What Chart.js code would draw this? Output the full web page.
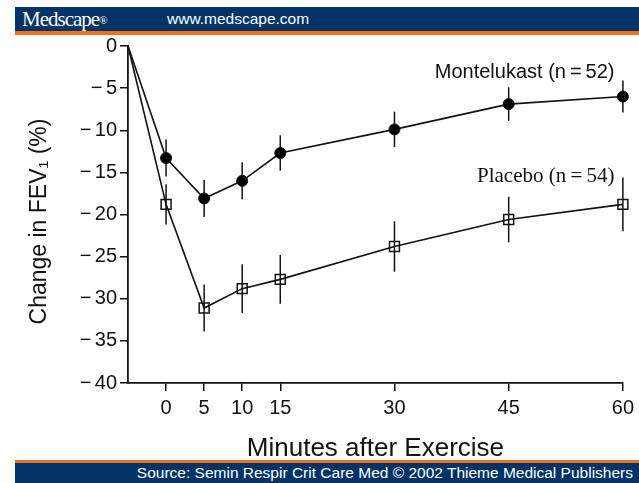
<!DOCTYPE html>
<html>
<head>
<meta charset="utf-8">
<script src="https://cdn.jsdelivr.net/npm/chart.js@4.4.1/dist/chart.umd.min.js"></script>
<style>
  html, body { margin: 0; padding: 0; background: #fff; }
  #wrap { position: relative; width: 639px; height: 483px; overflow: hidden; }
  #grafico { position: absolute; left: 0; top: 0; }
  .faixa { position: absolute; left: 15px; right: 0; background: #013366; color: #fff; }
  #topo { top: 7px; height: 24px; border-bottom: 4px solid #f0701e; }
  #rodape { top: 460px; height: 20px; border-top: 3px solid #f0701e; }
  #logo { position: absolute; left: 7px; top: 0px; font: 21px "Liberation Serif", serif; letter-spacing: -1px; }
  #logo small { font-size: 11px; letter-spacing: 0; vertical-align: 2px; }
  #site { position: absolute; left: 152px; top: 3px; font: 15.5px "Liberation Sans", Arial, sans-serif; }
  #fonte { position: absolute; right: 6px; top: 1px; font: 15.5px "Liberation Sans", Arial, sans-serif; }
</style>
</head>
<body>
<div id="wrap">
  <canvas id="grafico" width="639" height="483"></canvas>
  <div class="faixa" id="topo"><span id="logo">Medscape<small>®</small></span><span id="site">www.medscape.com</span></div>
  <div class="faixa" id="rodape"><span id="fonte">Source: Semin Respir Crit Care Med © 2002 Thieme Medical Publishers</span></div>
</div>
<script>
// minutos (o primeiro ponto e a linha de base antes do exercicio)
const minutos = [-5, 0, 5, 10, 15, 30, 45, 60];
const montelukast = [0, -13.3, -18.1, -16.0, -12.7, -9.9, -6.9, -6.0];
const montelukastErro = [0, 2.2, 2.2, 2.2, 2.1, 2.1, 2.0, 1.9];
const placebo = [0, -18.8, -31.1, -28.8, -27.7, -23.8, -20.6, -18.8];
const placeboErro = [0, 2.4, 2.8, 2.9, 2.9, 3.0, 2.7, 3.2];
const ticksX = [0, 5, 10, 15, 30, 45, 60];
const ticksY = [0, -5, -10, -15, -20, -25, -30, -35, -40];

const pontos = (valores) => minutos.map((m, i) => ({ x: m, y: valores[i] }));
const raios = (r) => minutos.map((m, i) => i === 0 ? 0 : r);

// barras de erro verticais, sem "chapeu"
const barrasErro = {
    id: 'barrasErro',
    beforeDatasetsDraw(chart) {
        const ctx = chart.ctx;
        const x = chart.scales.x;
        const y = chart.scales.y;
        const erros = [montelukastErro, placeboErro];
        const series = [montelukast, placebo];
        ctx.save();
        ctx.strokeStyle = '#111';
        ctx.lineWidth = 1.5;
        series.forEach((serie, s) => {
            serie.forEach((v, i) => {
                if (!erros[s][i]) return;
                const px = x.getPixelForValue(minutos[i]);
                ctx.beginPath();
                ctx.moveTo(px, y.getPixelForValue(v + erros[s][i]));
                ctx.lineTo(px, y.getPixelForValue(v - erros[s][i]));
                ctx.stroke();
            });
        });
        ctx.restore();
    }
};

// rotulos das curvas e titulo do eixo y
const rotulos = {
    id: 'rotulos',
    afterDraw(chart) {
        const ctx = chart.ctx;
        const x = chart.scales.x;
        const y = chart.scales.y;
        const area = chart.chartArea;
        ctx.save();
        ctx.fillStyle = '#111';
        ctx.textAlign = 'right';
        ctx.textBaseline = 'middle';
        ctx.font = '20px "Liberation Sans", Arial, sans-serif';
        ctx.fillText('Montelukast (n\u2009=\u200952)', x.getPixelForValue(58.9), y.getPixelForValue(-3.1));
        ctx.font = '21px "Liberation Serif", serif';
        ctx.fillText('Placebo (n\u2009=\u200954)', x.getPixelForValue(58.9), y.getPixelForValue(-15.5));

        // titulo do eixo y, girado
        ctx.translate(40, (area.top + area.bottom) / 2 + 7);
        ctx.rotate(-Math.PI / 2);
        ctx.textAlign = 'center';
        ctx.font = '23px "Liberation Sans", Arial, sans-serif';
        ctx.fillText('Change in FEV\u2081 (%)', 0, 0);
        ctx.restore();
    }
};

const eixo = {
    display: true,
    drawOnChartArea: false,
    drawTicks: true,
    color: '#111',
    tickColor: '#111',
    lineWidth: 1.5
};

new Chart(document.getElementById('grafico'), {
    type: 'line',
    data: {
        datasets: [
            {
                label: 'Montelukast',
                data: pontos(montelukast),
                borderColor: '#111',
                borderWidth: 1.6,
                backgroundColor: '#000',
                pointStyle: 'circle',
                pointRadius: raios(5.5),
                pointBorderWidth: 1,
                fill: false,
                tension: 0,
                clip: false
            },
            {
                label: 'Placebo',
                data: pontos(placebo),
                borderColor: '#111',
                borderWidth: 1.6,
                backgroundColor: 'rgba(255,255,255,0)',
                pointStyle: 'rect',
                pointRadius: raios(7),
                pointBorderWidth: 1.5,
                fill: false,
                tension: 0,
                clip: false
            }
        ]
    },
    options: {
        responsive: false,
        animation: false,
        devicePixelRatio: 1,
        layout: { padding: { top: 46, right: 16, bottom: 0, left: 0 } },
        plugins: { legend: { display: false }, tooltip: { enabled: false } },
        scales: {
            x: {
                type: 'linear',
                min: -5,
                max: 60,
                afterBuildTicks: (scale) => { scale.ticks = ticksX.map(v => ({ value: v })); },
                afterFit: (scale) => { scale.height = 100; },
                grid: Object.assign({}, eixo, { tickLength: 8 }),
                border: { display: true, color: '#111', width: 1.8 },
                ticks: {
                    color: '#111',
                    padding: 5,
                    maxRotation: 0,
                    font: { family: '"Liberation Sans", Arial, sans-serif', size: 20 }
                },
                title: {
                    display: true,
                    text: 'Minutes after Exercise',
                    color: '#111',
                    padding: { top: 0, bottom: 19 },
                    font: { family: '"Liberation Sans", Arial, sans-serif', size: 26 }
                }
            },
            y: {
                min: -40,
                max: 0,
                afterBuildTicks: (scale) => { scale.ticks = ticksY.map(v => ({ value: v })); },
                afterFit: (scale) => { scale.width = 128; },
                grid: Object.assign({}, eixo, { tickLength: 8 }),
                border: { display: true, color: '#111', width: 1.8 },
                ticks: {
                    color: '#111',
                    padding: 3,
                    font: { family: '"Liberation Sans", Arial, sans-serif', size: 20 },
                    callback: (v) => v === 0 ? '0' : '\u2212\u2006' + Math.abs(v)
                }
            }
        }
    },
    plugins: [barrasErro, rotulos]
});
</script>
</body>
</html>
